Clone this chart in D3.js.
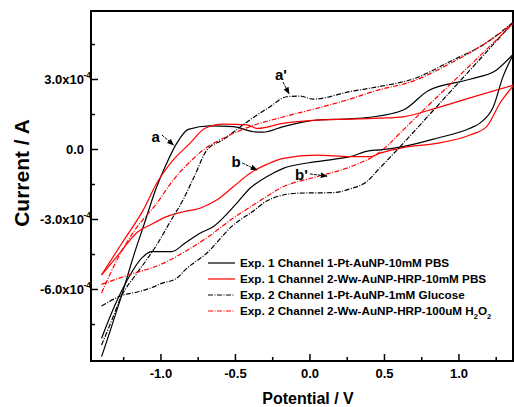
<!DOCTYPE html>
<html><head><meta charset="utf-8">
<script src="https://cdn.jsdelivr.net/npm/d3@7"></script>
<style>
body{margin:0;background:#fff;}
svg text{font-family:"Liberation Sans",Arial,sans-serif;font-weight:bold;fill:#000;}
</style></head><body>
<svg id="chart" width="514" height="407"></svg>
<script>
// Potential in V, current in units of 1e-4 A; each branch sorted by potential
const seriesNames = [
  "Exp. 1 Channel 1-Pt-AuNP-10mM PBS",
  "Exp. 1 Channel 2-Ww-AuNP-HRP-10mM PBS",
  "Exp. 2 Channel 1-Pt-AuNP-1mM Glucose",
  "Exp. 2 Channel 2-Ww-AuNP-HRP-100uM H2O2"
];
const seriesColors = ["#000000", "#ff0000", "#000000", "#ff0000"];
const seriesDashed = [false, false, true, true];

const c1Anodic = [[-1.395,-8.90],[-1.260,-6.26],[-1.171,-4.40],[-1.115,-3.33],[-1.025,-1.62],[-0.958,-0.61],[-0.891,0.24],[-0.813,0.84],[-0.668,0.99],[-0.511,0.96],[-0.377,0.74],[-0.310,0.72],[-0.176,0.96],[0.048,1.24],[0.272,1.29],[0.406,1.36],[0.630,1.67],[0.797,2.50],[1.077,2.99],[1.256,3.39],[1.372,4.10]];
const c1Cathodic = [[-1.395,-8.11],[-1.305,-6.69],[-1.216,-5.54],[-1.126,-4.68],[-1.059,-4.40],[-0.925,-4.40],[-0.836,-4.04],[-0.735,-3.61],[-0.646,-3.33],[-0.489,-2.33],[-0.399,-1.68],[-0.287,-1.19],[-0.176,-0.83],[0.048,-0.54],[0.272,-0.33],[0.406,-0.07],[0.473,-0.04],[0.628,0.10],[0.854,0.46],[1.077,0.89],[1.144,1.11],[1.234,1.81],[1.299,3.10],[1.372,4.10]];

const c2Anodic = [[-1.395,-5.40],[-1.258,-4.03],[-1.115,-2.61],[-1.025,-1.47],[-0.914,-0.47],[-0.802,0.24],[-0.701,0.89],[-0.579,1.07],[-0.421,1.03],[-0.346,0.88],[-0.178,1.10],[0.048,1.24],[0.473,1.32],[0.628,1.38],[0.854,1.76],[1.077,2.19],[1.372,2.74]];
const c2Cathodic = [[-1.395,-5.40],[-1.283,-4.54],[-1.149,-3.54],[-1.070,-3.26],[-0.958,-2.90],[-0.847,-2.69],[-0.735,-2.54],[-0.623,-2.19],[-0.511,-1.62],[-0.399,-1.04],[-0.287,-0.66],[-0.176,-0.40],[0.048,-0.26],[0.272,-0.33],[0.406,-0.33],[0.473,-0.18],[0.628,0.06],[0.854,0.24],[1.077,0.60],[1.189,0.96],[1.279,1.97],[1.372,2.74]];

const c3Anodic = [[-1.395,-8.40],[-1.326,-7.33],[-1.258,-6.26],[-1.171,-5.44],[-1.084,-4.67],[-1.017,-4.03],[-0.936,-3.13],[-0.849,-2.19],[-0.768,-1.11],[-0.688,-0.04],[-0.581,0.39],[-0.466,0.94],[-0.332,1.54],[-0.265,1.81],[-0.153,2.24],[-0.064,2.27],[0.026,2.14],[0.272,2.46],[0.473,2.68],[0.695,3.00],[0.963,3.81],[1.164,4.46],[1.372,5.46]];
const c3Cathodic = [[-1.395,-6.73],[-1.250,-6.26],[-1.149,-6.12],[-1.070,-5.97],[-0.992,-5.76],[-0.891,-5.54],[-0.836,-5.19],[-0.690,-4.47],[-0.511,-3.26],[-0.466,-3.04],[-0.399,-2.76],[-0.287,-2.23],[-0.176,-1.97],[-0.064,-1.89],[0.160,-1.87],[0.272,-1.71],[0.384,-1.40],[0.473,-0.81],[0.607,0.09],[0.829,1.64],[0.943,2.44],[1.164,3.99],[1.372,5.46]];

const c4Anodic = [[-1.395,-6.17],[-1.285,-4.67],[-1.171,-3.47],[-1.025,-2.33],[-0.914,-1.33],[-0.824,-0.69],[-0.713,-0.04],[-0.579,0.46],[-0.399,0.96],[-0.178,1.37],[0.048,1.74],[0.272,2.14],[0.440,2.49],[0.695,2.91],[0.963,3.73],[1.164,4.46],[1.372,5.40]];
const c4Cathodic = [[-1.395,-5.80],[-1.216,-5.40],[-0.992,-4.93],[-0.836,-4.40],[-0.690,-3.81],[-0.511,-2.96],[-0.354,-2.31],[-0.176,-1.62],[0.048,-1.19],[0.272,-0.77],[0.473,-0.13],[0.628,0.81],[0.829,2.06],[1.077,3.58],[1.372,5.40]];

const seriesBranches = [[c1Anodic,c1Cathodic],[c2Anodic,c2Cathodic],[c3Anodic,c3Cathodic],[c4Anodic,c4Cathodic]];

const xTicks = [-1.0,-0.5,0.0,0.5,1.0];
const xMinorTicks = [-1.25,-0.75,-0.25,0.25,0.75,1.25];
const yTicks = [3,0,-3,-6];
const yMinorTicks = [4.5,1.5,-1.5,-4.5,-7.5];
const xTitle = "Potential / V";
const yTitle = "Current / A";

const annotations = [
  {label:"a", tx:151.5, ty:141.5, from:[-0.990,0.60], to:[-0.912,0.17]},
  {label:"b", tx:231.5, ty:166.7, from:[-0.451,-0.60], to:[-0.352,-0.90]},
  {label:"a'", tx:275, ty:80, from:[-0.178,2.87], to:[-0.137,2.37]},
  {label:"b'", tx:295, ty:180, from:[0.003,-1.07], to:[0.118,-1.16]}
];

const svg = d3.select("#chart");
const L = 91, R = 513, T = 11, B = 361;
const x = d3.scaleLinear().domain([-1.466, 1.366]).range([L, R]);
const y = d3.scaleLinear().domain([-9.086, 5.914]).range([B, T]);

const defs = svg.append("defs");
defs.append("clipPath").attr("id","clip")
  .append("rect").attr("x",L).attr("y",T).attr("width",R-L).attr("height",B-T);
defs.append("marker").attr("id","arrow").attr("viewBox","0 0 10 10")
  .attr("refX",9).attr("refY",5).attr("markerWidth",7).attr("markerHeight",7)
  .attr("markerUnits","userSpaceOnUse").attr("orient","auto")
  .append("path").attr("d","M0,1 L10,5 L0,9 Z").attr("fill","#000");

// axes
const fmtX = v => v.toFixed(1);
const xAxis = svg.append("g").attr("transform",`translate(0,${B})`)
  .call(d3.axisBottom(x).tickValues(xTicks).tickFormat(fmtX).tickSize(-7).tickPadding(8));
const xMinor = svg.append("g").attr("transform",`translate(0,${B})`)
  .call(d3.axisBottom(x).tickValues(xMinorTicks).tickFormat("").tickSize(-4));
const yAxis = svg.append("g").attr("transform",`translate(${L},0)`)
  .call(d3.axisLeft(y).tickValues(yTicks).tickFormat(d => d === 0 ? "0.0" : d.toFixed(1) + "x10").tickSize(-7).tickPadding(7));
const yMinor = svg.append("g").attr("transform",`translate(${L},0)`)
  .call(d3.axisLeft(y).tickValues(yMinorTicks).tickFormat("").tickSize(-4));
[xAxis,xMinor,yAxis,yMinor].forEach(g=>{
  g.select(".domain").remove();
  g.selectAll(".tick line").attr("stroke","#000").attr("stroke-width",1.5);
  g.selectAll("text").style("font-size","13px").attr("fill","#000");
});
yAxis.selectAll(".tick").filter(d => d !== 0).append("text")
  .attr("x",-7.5).attr("y",-1.5).attr("text-anchor","start")
  .attr("fill","#000").style("font-size","8.5px").text("-4");

// frame
svg.append("rect").attr("x",L).attr("y",T).attr("width",R-L).attr("height",B-T)
  .attr("fill","none").attr("stroke","#000").attr("stroke-width",2);

// curves
const line = d3.line().x(d=>x(d[0])).y(d=>y(d[1])).curve(d3.curveMonotoneX);
const plot = svg.append("g").attr("clip-path","url(#clip)");
seriesBranches.forEach((branches,i)=>{
  branches.forEach(br=>{
    plot.append("path").datum(br).attr("d",line)
      .attr("fill","none").attr("stroke",seriesColors[i]).attr("stroke-width",1.2)
      .attr("stroke-dasharray", seriesDashed[i] ? "5,1.5,1,1.5" : null);
  });
});

// annotations
annotations.forEach(a=>{
  svg.append("text").attr("x",a.tx).attr("y",a.ty).style("font-size","15px").text(a.label);
  svg.append("line").attr("x1",x(a.from[0])).attr("y1",y(a.from[1]))
    .attr("x2",x(a.to[0])).attr("y2",y(a.to[1]))
    .attr("stroke","#000").attr("stroke-width",1).attr("stroke-dasharray","3,1")
    .attr("marker-end","url(#arrow)");
});

// legend
const legY = [263, 279, 295, 311];
seriesNames.forEach((name,i)=>{
  svg.append("line").attr("x1",208).attr("x2",235).attr("y1",legY[i]).attr("y2",legY[i])
    .attr("stroke",seriesColors[i]).attr("stroke-width",1.2)
    .attr("stroke-dasharray", seriesDashed[i] ? "5,1.5,1,1.5" : null);
  const t = svg.append("text").attr("x",240).attr("y",legY[i]+4.2).style("font-size","11.7px");
  if (name.endsWith("H2O2")) {
    t.append("tspan").text(name.slice(0,-4) + "H");
    t.append("tspan").attr("dy",4).style("font-size","7.5px").text("2");
    t.append("tspan").attr("dy",-4).text("O");
    t.append("tspan").attr("dy",4).style("font-size","7.5px").text("2");
  } else {
    t.text(name);
  }
});

// titles
svg.append("text").attr("x",308).attr("y",404).attr("text-anchor","middle")
  .style("font-size","16px").text(xTitle);
svg.append("text").attr("transform","translate(29,173) rotate(-90)").attr("text-anchor","middle")
  .style("font-size","21px").text(yTitle);
</script>
</body></html>
